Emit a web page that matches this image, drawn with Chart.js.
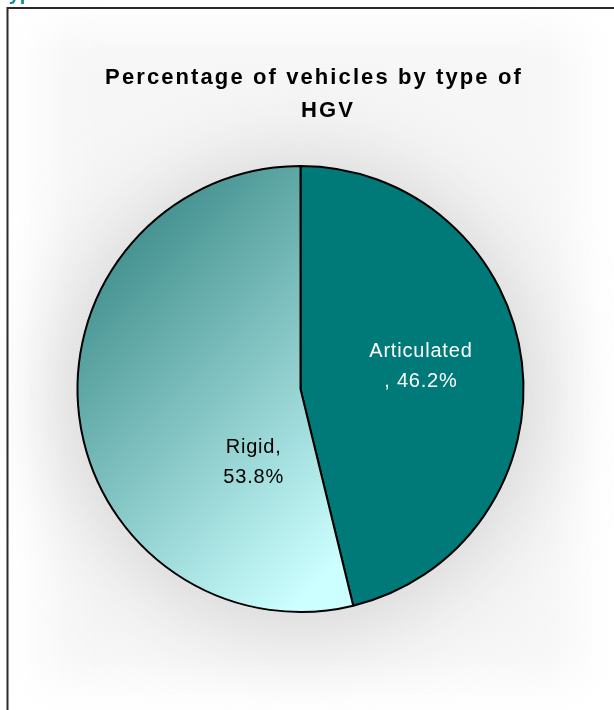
<!DOCTYPE html>
<html>
<head>
<meta charset="utf-8">
<script src="https://cdn.jsdelivr.net/npm/chart.js@4/dist/chart.umd.min.js"></script>
<style>
  html, body { margin: 0; padding: 0; background: #ffffff; }
  #wrap { position: relative; width: 614px; height: 710px; }
  canvas { display: block; }
</style>
</head>
<body>
<div id="wrap"><canvas id="c" width="614" height="710"></canvas></div>
<script>
// ---- data ----
const categories = ['Articulated', 'Rigid'];
const percentages = [46.2, 53.8];
const labelLines = [['Articulated', ', 46.2%'], ['Rigid,', '53.8%']];
const titleLines = ['Percentage of vehicles by type of', 'HGV'];
const headingText = 'Type of HGV';

// ---- styles ----
const articulatedColor = '#007a78';
const rigidGradStart = '#43918f';
const rigidGradEnd = '#ccffff';
const labelColors = ['#ffffff', '#000000'];
// label placement as fraction of radius relative to pie centre
const labelOffsets = [[0.54, -0.10], [-0.21, 0.33]];

const deco = {
  id: 'deco',
  beforeDraw(chart) {
    const ctx = chart.ctx;
    const meta = chart.getDatasetMeta(0);
    const arc = meta.data[0];
    const cx = arc.x, cy = arc.y, r = arc.outerRadius;
    ctx.save();
    ctx.fillStyle = '#ffffff';
    ctx.fillRect(0, 0, chart.width, chart.height);
    // soft background panel
    ctx.filter = 'blur(22px)';
    ctx.fillStyle = '#f6f6f6';
    ctx.fillRect(45, 30, 530, 650);
    ctx.filter = 'blur(40px)';
    ctx.fillStyle = '#d6d6d6';
    ctx.beginPath();
    ctx.arc(cx, cy + 5, r + 15, 0, Math.PI * 2);
    ctx.fill();
    ctx.filter = 'none';
    // frame
    ctx.strokeStyle = '#2a2a2a';
    ctx.lineWidth = 2;
    ctx.beginPath();
    ctx.moveTo(614, 8);
    ctx.lineTo(7.5, 8);
    ctx.lineTo(7.5, 710);
    ctx.stroke();
    // cut-off heading above the frame
    ctx.fillStyle = '#0f9090';
    ctx.font = 'bold 20px "Liberation Sans", Arial, sans-serif';
    ctx.textBaseline = 'alphabetic';
    ctx.textAlign = 'left';
    ctx.fillText(headingText, -2, 0);
    // title
    ctx.fillStyle = '#000000';
    ctx.font = 'bold 22px "Liberation Sans", Arial, sans-serif';
    ctx.textAlign = 'center';
    ctx.textBaseline = 'middle';
    try { ctx.letterSpacing = '2.1px'; } catch (e) {}
    ctx.fillText(titleLines[0], 314, 78);
    ctx.fillText(titleLines[1], 328, 111);
    ctx.restore();
  },
  afterDatasetsDraw(chart) {
    const ctx = chart.ctx;
    const meta = chart.getDatasetMeta(0);
    ctx.save();
    ctx.font = '20px "Liberation Sans", Arial, sans-serif';
    try { ctx.letterSpacing = '0.8px'; } catch (e) {}
    ctx.textAlign = 'center';
    ctx.textBaseline = 'middle';
    meta.data.forEach((arc, i) => {
      const x = arc.x + labelOffsets[i][0] * arc.outerRadius;
      const y = arc.y + labelOffsets[i][1] * arc.outerRadius;
      ctx.fillStyle = labelColors[i];
      const lines = labelLines[i];
      lines.forEach((t, j) => {
        ctx.fillText(t, x, y + (j - (lines.length - 1) / 2) * 30);
      });
    });
    ctx.restore();
  }
};

new Chart(document.getElementById('c'), {
  type: 'pie',
  data: {
    labels: categories,
    datasets: [{
      data: percentages,
      backgroundColor(context) {
        if (context.dataIndex === 0) return articulatedColor;
        const area = context.chart.chartArea;
        if (!area) return rigidGradStart;
        const g = context.chart.ctx.createLinearGradient(area.left + 10, area.top + 110, area.left + 280, area.bottom - 70);
        g.addColorStop(0, rigidGradStart);
        g.addColorStop(1, rigidGradEnd);
        return g;
      },
      borderColor: '#000000',
      borderWidth: 2
    }]
  },
  options: {
    responsive: false,
    animation: false,
    layout: { padding: { left: 76, right: 89, top: 165, bottom: 97 } },
    plugins: {
      legend: { display: false },
      tooltip: { enabled: false },
      title: { display: false }
    }
  },
  plugins: [deco]
});
</script>
</body>
</html>
